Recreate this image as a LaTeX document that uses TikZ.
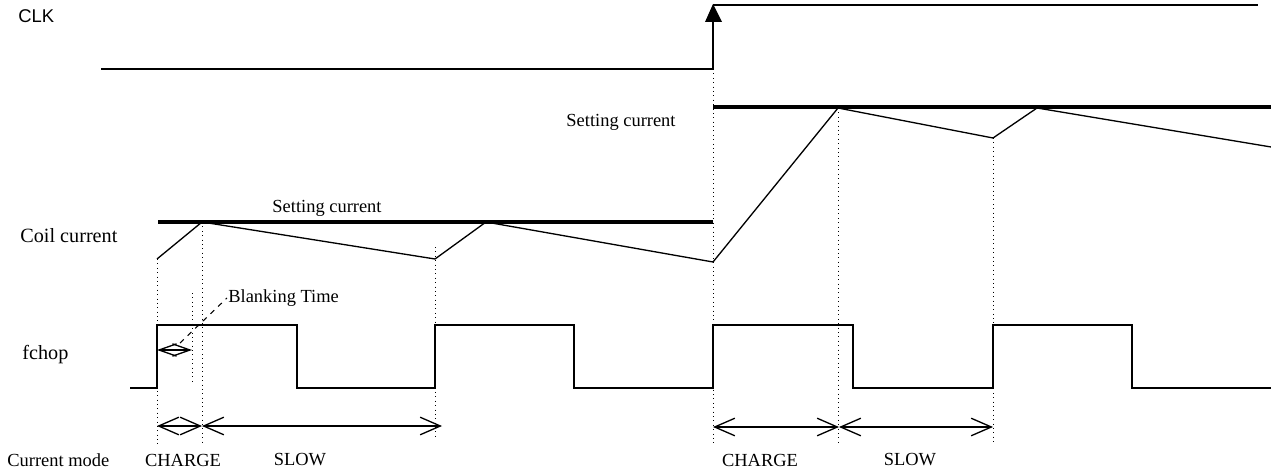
\documentclass[tikz,border=0pt]{standalone}
\usepackage{fontspec}
\setmainfont{Liberation Serif}
\newfontfamily\clkfont{Liberation Sans}
\usepackage{tikz}
\usetikzlibrary{arrows.meta}

\begin{document}
\begin{tikzpicture}[x=0.02cm,y=-0.02cm,
  wave/.style={line width=0.75pt,line join=miter},
  setline/.style={line width=2.8pt},
  guide/.style={line width=0.5pt,dotted},
  span/.style={line width=0.75pt,{Straight Barb[length=11.5pt,width=10pt]}-{Straight Barb[length=11.5pt,width=10pt]}},
  smallspan/.style={line width=0.75pt,{Straight Barb[length=10pt,width=7pt]}-{Straight Barb[length=10pt,width=7pt]}},
  lbl/.style={inner sep=0pt,font=\fontsize{10.5}{12}\selectfont}]
\useasboundingbox (0,0) rectangle (1271,473);

% labels on the left
\node[lbl,anchor=west,font=\clkfont\fontsize{10.5}{12}\selectfont] (clk) at (18,16) {CLK};
\node[lbl,anchor=west,font=\fontsize{11.5}{13}\selectfont] (coil) at (20,236) {Coil current};
\node[lbl,anchor=west,font=\fontsize{11.5}{13}\selectfont] (fchop) at (22,355) {fchop};
\node[lbl,anchor=west] (mode) at (7,460) {Current mode};

% CLK
\draw[wave] (101,69) -- (713,69) -- (713,12);
\draw[wave] (713,5) -- (1258,5);
\fill (705,22) -- (713,4) -- (722,22) -- cycle;

% setting current
\draw[setline] (158,222) -- (713,222);
\draw[setline] (713,107) -- (1271,107);
\node[lbl] (set1) at (327,208) {Setting current};
\node[lbl] (set2) at (621,122) {Setting current};

% coil current
\draw[wave] (157,259) -- (202,222) -- (435,259) -- (486,222) -- (713,262)
  -- (838,108) -- (993,138) -- (1037,108) -- (1271,147);

% fchop
\draw[wave] (130,388) -- (157,388) -- (157,325) -- (297,325) -- (297,388)
  -- (435,388) -- (435,325) -- (574,325) -- (574,388) -- (713,388)
  -- (713,325) -- (853,325) -- (853,388) -- (993,388) -- (993,325)
  -- (1132,325) -- (1132,388) -- (1271,388);

% dotted guides
\draw[guide] (157,259) -- (157,445);
\draw[guide] (192,293) -- (192,385);
\draw[guide] (202,222) -- (202,445);
\draw[guide] (435,247) -- (435,437);
\draw[guide] (713,69) -- (713,443);
\draw[guide] (838,108) -- (838,445);
\draw[guide] (993,138) -- (993,443);

% blanking time
\draw[smallspan] (157,350) -- (192,350);
\draw[line width=0.6pt,dashed] (180,343) -- (227,298);
\node[lbl,anchor=west] (blank) at (228,298) {Blanking Time};

% current mode
\draw[span] (157,426) -- (202,426);
\draw[span] (202,426) -- (442,426);
\draw[span] (713,427) -- (839,427);
\draw[span] (839,427) -- (993,427);
\node[lbl] (chg1) at (183,460) {CHARGE};
\node[lbl] (slw1) at (300,460) {SLOW};
\node[lbl] (chg2) at (760,460) {CHARGE};
\node[lbl] (slw2) at (910,460) {SLOW};
\end{tikzpicture}
\end{document}
